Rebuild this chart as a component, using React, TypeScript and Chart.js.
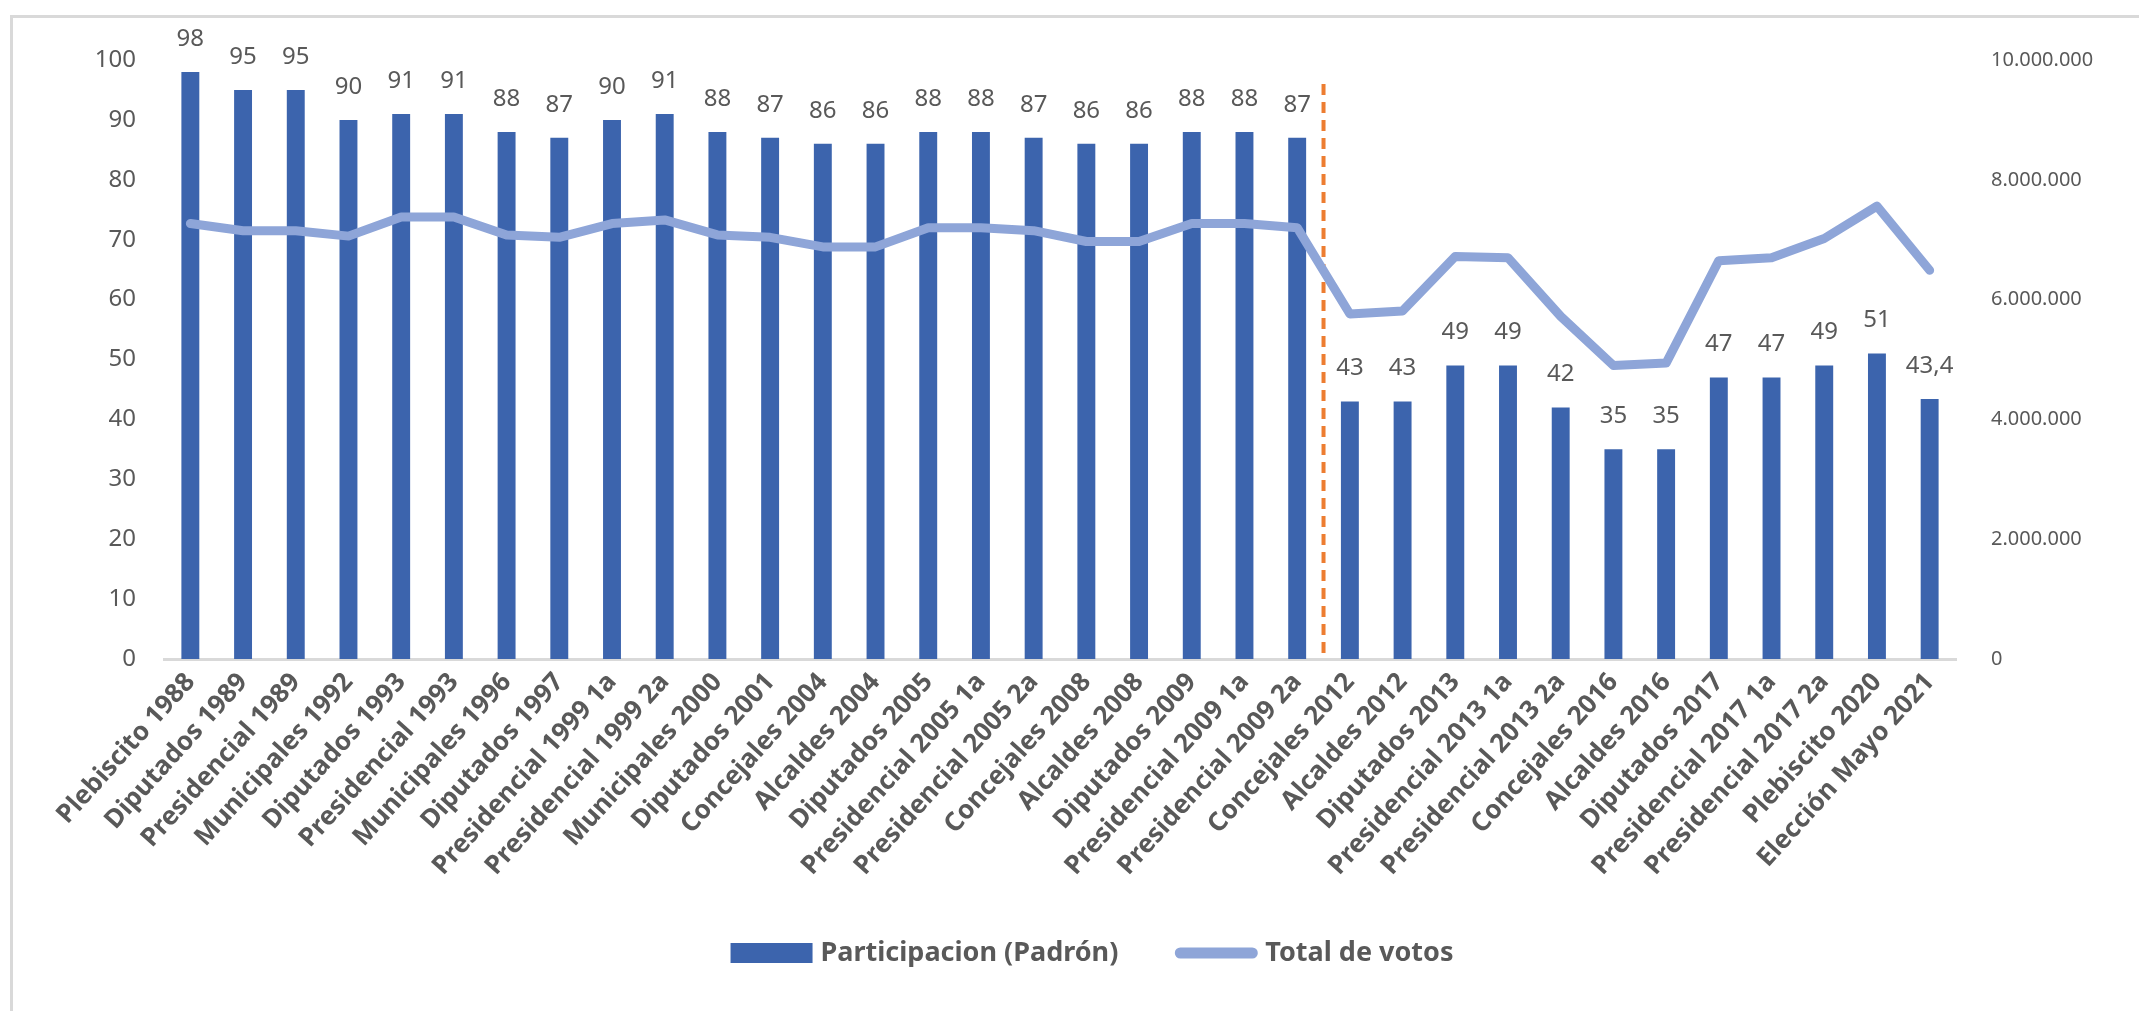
import React, { useEffect, useRef } from "react";
import { Chart, registerables } from "chart.js";

Chart.register(...registerables);

const categories = [
  "Plebiscito 1988", "Diputados 1989", "Presidencial 1989", "Municipales 1992",
  "Diputados 1993", "Presidencial 1993", "Municipales 1996", "Diputados 1997",
  "Presidencial 1999 1a", "Presidencial 1999 2a", "Municipales 2000", "Diputados 2001",
  "Concejales 2004", "Alcaldes 2004", "Diputados 2005", "Presidencial 2005 1a",
  "Presidencial 2005 2a", "Concejales 2008", "Alcaldes 2008", "Diputados 2009",
  "Presidencial 2009 1a", "Presidencial 2009 2a", "Concejales 2012", "Alcaldes 2012",
  "Diputados 2013", "Presidencial 2013 1a", "Presidencial 2013 2a", "Concejales 2016",
  "Alcaldes 2016", "Diputados 2017", "Presidencial 2017 1a", "Presidencial 2017 2a",
  "Plebiscito 2020", "Elección Mayo 2021",
];

const participacion = [
  98, 95, 95, 90, 91, 91, 88, 87, 90, 91, 88, 87, 86, 86, 88, 88, 87, 86, 86, 88, 88, 87,
  43, 43, 49, 49, 42, 35, 35, 47, 47, 49, 51, 43.4,
];

const totalVotos = [
  7270000, 7150000, 7150000, 7060000, 7380000, 7380000, 7080000, 7040000, 7270000, 7330000,
  7080000, 7040000, 6880000, 6880000, 7200000, 7200000, 7150000, 6970000, 6970000, 7270000,
  7270000, 7200000, 5760000, 5810000, 6720000, 6700000, 5720000, 4900000, 4940000, 6650000,
  6700000, 7020000, 7560000, 6490000,
];

const seriesNames = ["Participacion (Padrón)", "Total de votos"];
const dividerAfterIndex = 21;
const dividerTopValue = 96;

const BAR_COLOR = "#3C64AD";
const LINE_COLOR = "#8EA5D8";
const TEXT_COLOR = "#595959";
const FONT = "'Noto Sans', sans-serif";

const fmtDots = (v: number) => String(Math.round(v)).replace(/\B(?=(\d{3})+(?!\d))/g, ".");
const fmtComma = (v: number) => String(v).replace(".", ",");

export default function App() {
  const ref = useRef<HTMLCanvasElement | null>(null);

  useEffect(() => {
    const canvas = ref.current;
    if (!canvas) return;

    const extras = {
      id: "extras",
      beforeDatasetsDraw(chart: any) {
        const { ctx } = chart;
        const x = chart.scales.x;
        const y = chart.scales.y;
        const px = (x.getPixelForValue(dividerAfterIndex) + x.getPixelForValue(dividerAfterIndex + 1)) / 2;
        ctx.save();
        ctx.strokeStyle = "#ED7D31";
        ctx.lineWidth = 4;
        ctx.setLineDash([11, 7]);
        ctx.beginPath();
        ctx.moveTo(px, y.getPixelForValue(dividerTopValue));
        ctx.lineTo(px, y.getPixelForValue(0));
        ctx.stroke();
        ctx.restore();
      },
      afterDatasetsDraw(chart: any) {
        const { ctx } = chart;
        const meta = chart.getDatasetMeta(1);
        ctx.save();
        ctx.fillStyle = TEXT_COLOR;
        ctx.font = `24px ${FONT}`;
        ctx.textAlign = "center";
        ctx.textBaseline = "middle";
        meta.data.forEach((el: any, i: number) => {
          ctx.fillText(fmtComma(participacion[i]), el.x, el.y - 33);
        });
        ctx.restore();
      },
      afterDraw(chart: any) {
        const { ctx } = chart;
        ctx.save();
        ctx.font = `bold 27px ${FONT}`;
        const w1 = ctx.measureText(seriesNames[0]).width;
        const w2 = ctx.measureText(seriesNames[1]).width;
        const boxW = 82;
        const gap = 8;
        const between = 57;
        const total = boxW + gap + w1 + between + boxW + gap + w2;
        const cx = 1092;
        const cy = 953;
        let xPos = cx - total / 2;
        ctx.fillStyle = BAR_COLOR;
        ctx.fillRect(xPos, cy - 10, boxW, 20);
        xPos += boxW + gap;
        ctx.fillStyle = TEXT_COLOR;
        ctx.textBaseline = "middle";
        ctx.textAlign = "left";
        ctx.fillText(seriesNames[0], xPos, cy);
        xPos += w1 + between;
        ctx.strokeStyle = LINE_COLOR;
        ctx.lineWidth = 11;
        ctx.lineCap = "round";
        ctx.beginPath();
        ctx.moveTo(xPos + 5, cy);
        ctx.lineTo(xPos + boxW - 5, cy);
        ctx.stroke();
        xPos += boxW + gap;
        ctx.fillStyle = TEXT_COLOR;
        ctx.fillText(seriesNames[1], xPos, cy);
        ctx.restore();
      },
    };

    const chart = new Chart(canvas, {
      type: "bar",
      data: {
        labels: categories,
        datasets: [
          {
            type: "line",
            label: seriesNames[1],
            data: totalVotos,
            yAxisID: "y1",
            borderColor: LINE_COLOR,
            backgroundColor: LINE_COLOR,
            borderWidth: 9,
            pointRadius: 0,
            tension: 0,
            borderJoinStyle: "round",
            borderCapStyle: "round",
            order: 0,
          } as any,
          {
            type: "bar",
            label: seriesNames[0],
            data: participacion,
            yAxisID: "y",
            backgroundColor: BAR_COLOR,
            barPercentage: 0.34,
            categoryPercentage: 1,
            order: 1,
          },
        ],
      },
      plugins: [extras],
      options: {
        animation: false,
        responsive: false,
        maintainAspectRatio: false,
        devicePixelRatio: 1,
        layout: { padding: { top: 60, left: 0, right: 0, bottom: 52 } },
        plugins: {
          legend: { display: false },
          tooltip: { enabled: false },
          title: { display: false },
        },
        scales: {
          x: {
            grid: { display: false, drawTicks: false },
            border: { display: true, color: "#D9D9D9", width: 3 },
            ticks: {
              autoSkip: false,
              maxRotation: 48,
              minRotation: 48,
              padding: 8,
              color: TEXT_COLOR,
              font: { family: FONT, size: 26, weight: "bold" },
            },
            afterFit(scale: any) {
              scale.height = 300;
            },
          },
          y: {
            position: "left",
            min: 0,
            max: 100,
            ticks: {
              stepSize: 10,
              padding: 28,
              color: TEXT_COLOR,
              font: { family: FONT, size: 24 },
            },
            grid: { display: false, drawTicks: false },
            border: { display: false },
            afterFit(scale: any) {
              scale.width = 164;
            },
          },
          y1: {
            position: "right",
            min: 0,
            max: 10000000,
            ticks: {
              stepSize: 2000000,
              padding: 35,
              color: TEXT_COLOR,
              font: { family: FONT, size: 20 },
              callback: (v: any) => fmtDots(Number(v)),
            },
            grid: { display: false, drawTicks: false },
            border: { display: false },
            afterFit(scale: any) {
              scale.width = 183;
            },
          },
        },
      } as any,
    });

    return () => chart.destroy();
  }, []);

  return (
    <div style={{ position: "fixed", left: 0, top: 0, width: 2139, height: 1011, background: "#fff", overflow: "hidden" }}>
      <div
        style={{
          position: "absolute",
          left: 10,
          top: 15,
          width: 2200,
          height: 1100,
          borderLeft: "3px solid #D9D9D9",
          borderTop: "3px solid #D9D9D9",
        }}
      />
      <canvas ref={ref} width={2139} height={1011} style={{ position: "absolute", left: 0, top: 0, width: 2139, height: 1011 }} />
    </div>
  );
}
